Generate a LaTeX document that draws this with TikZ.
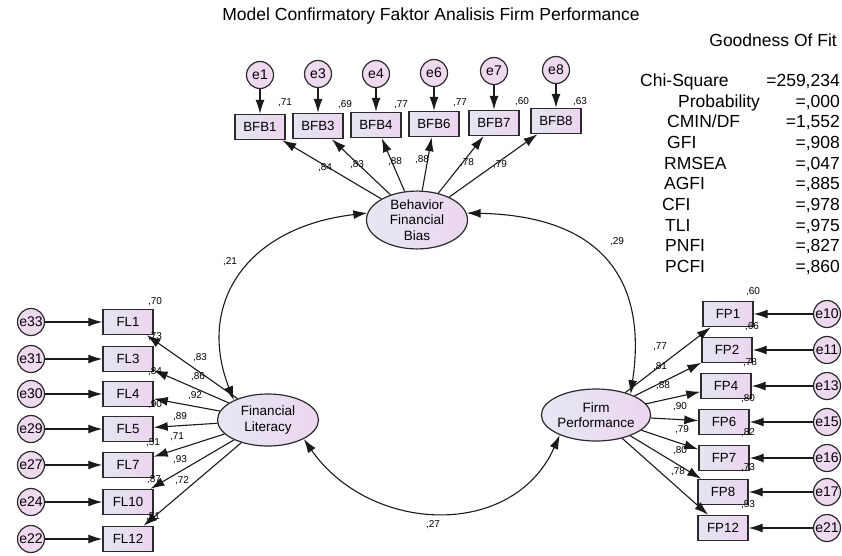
\documentclass[tikz,border=0pt]{standalone}
\usepackage{fontspec}
\setmainfont{Liberation Sans}
\usetikzlibrary{arrows.meta,shapes.geometric}
\definecolor{bord}{HTML}{2B2B2B}
\definecolor{lineC}{HTML}{1A1A1A}
\definecolor{boxL}{HTML}{E3E6F0}
\definecolor{boxR}{HTML}{ECD5EF}
\definecolor{latL}{HTML}{E5E8F2}
\definecolor{latR}{HTML}{ECD6F0}
\definecolor{errF}{HTML}{EFD9EF}
\begin{document}
\begin{tikzpicture}[x=1pt,y=-1pt,
  box/.style={draw=bord,line width=1.4pt,left color=boxL,right color=boxR,minimum width=50pt,minimum height=25pt,inner sep=0pt,font=\fontsize{13.3}{15}\selectfont},
  err/.style={circle,draw=bord,line width=1.2pt,fill=errF,minimum size=27pt,inner sep=0pt,font=\fontsize{14}{15}\selectfont},
  lat/.style={ellipse,draw=bord,line width=1.2pt,left color=latL,right color=latR,minimum width=101pt,minimum height=52pt,inner sep=0pt,align=center,font=\fontsize{13.5}{15.5}\selectfont},
  arr/.style={-{Latex[length=14pt,width=9pt]},line width=1.1pt,draw=lineC},
  cov/.style={{Latex[length=14pt,width=9pt]}-{Latex[length=14pt,width=9pt]},line width=1.1pt,draw=lineC},
  lbl/.style={font=\fontsize{10}{11}\selectfont,inner sep=0pt},
  gof/.style={font=\fontsize{17.5}{20}\selectfont,inner sep=0pt}
]
\fill[white] (0,0) rectangle (842,555);
\useasboundingbox (0,0) rectangle (842,555);

% title and goodness of fit
\node[gof,anchor=mid] (title) at (431,18) {Model Confirmatory Faktor Analisis Firm Performance};
\node[gof,anchor=mid east] (goft) at (837,44) {Goodness Of Fit};
\node[gof,anchor=mid west] (n1) at (640,84) {Chi-Square};
\node[gof,anchor=mid west] (n2) at (678,105) {Probability};
\node[gof,anchor=mid west] (n3) at (667,125) {CMIN/DF};
\node[gof,anchor=mid west] (n4) at (667,146) {GFI};
\node[gof,anchor=mid west] (n5) at (664,167) {RMSEA};
\node[gof,anchor=mid west] (n6) at (664,187) {AGFI};
\node[gof,anchor=mid west] (n7) at (662,208) {CFI};
\node[gof,anchor=mid west] (n8) at (665,229) {TLI};
\node[gof,anchor=mid west] (n9) at (665,249) {PNFI};
\node[gof,anchor=mid west] (n10) at (665,270) {PCFI};
\node[gof,anchor=mid east] (v1) at (840,84) {=259,234};
\node[gof,anchor=mid east] (v2) at (840,105) {=,000};
\node[gof,anchor=mid east] (v3) at (840,125) {=1,552};
\node[gof,anchor=mid east] (v4) at (840,146) {=,908};
\node[gof,anchor=mid east] (v5) at (840,167) {=,047};
\node[gof,anchor=mid east] (v6) at (840,187) {=,885};
\node[gof,anchor=mid east] (v7) at (840,208) {=,978};
\node[gof,anchor=mid east] (v8) at (840,229) {=,975};
\node[gof,anchor=mid east] (v9) at (840,249) {=,827};
\node[gof,anchor=mid east] (v10) at (840,270) {=,860};

% latent variables
\node[lat] (BFB) at (417,220) {Behavior\\Financial\\Bias};
\node[lat] (FL) at (268,420) {Financial\\Literacy};
\node[lat] (FP) at (596,415) {Firm\\Performance};

% BFB indicators
\node[box] (b1) at (260,127) {BFB1};
\node[box] (b3) at (318,126) {BFB3};
\node[box] (b4) at (376,125) {BFB4};
\node[box] (b6) at (434,124) {BFB6};
\node[box] (b7) at (494,123) {BFB7};
\node[box] (b8) at (556,121) {BFB8};
\node[err] (e1) at (260,75) {e1};
\node[err] (e3) at (318,74) {e3};
\node[err] (e4) at (376,74) {e4};
\node[err] (e6) at (434,73) {e6};
\node[err] (e7) at (494,71) {e7};
\node[err] (e8) at (556,70) {e8};
\foreach \i in {1,3,4,6,7,8} {
  \draw[arr] (e\i) -- (b\i);
  \draw[arr] (BFB) -- (b\i);
}
\node[lbl] (r1) at (285,103) {,71};
\node[lbl] (r3) at (345,105) {,69};
\node[lbl] (r4) at (401,105) {,77};
\node[lbl] (r6) at (460,103) {,77};
\node[lbl] (r7) at (522,102) {,60};
\node[lbl] (r8) at (580,102) {,63};
\node[lbl] (l1) at (325,168) {,84};
\node[lbl] (l3) at (357,165) {,83};
\node[lbl] (l4) at (395,162) {,88};
\node[lbl] (l6) at (422,160) {,88};
\node[lbl] (l7) at (467,163) {,78};
\node[lbl] (l8) at (500,165) {,79};

% FL indicators
\node[box] (f1) at (128,322) {FL1};
\node[box] (f3) at (128,359) {FL3};
\node[box] (f4) at (128,394) {FL4};
\node[box] (f5) at (128,429) {FL5};
\node[box] (f7) at (128,465) {FL7};
\node[box] (f10) at (128,502) {FL10};
\node[box] (f12) at (128,539) {FL12};
\node[err] (e33) at (31,322) {e33};
\node[err] (e31) at (31,359) {e31};
\node[err] (e30) at (31,394) {e30};
\node[err] (e29) at (31,429) {e29};
\node[err] (e27) at (31,465) {e27};
\node[err] (e24) at (31,502) {e24};
\node[err] (e22) at (31,539) {e22};
\draw[arr] (e33) -- (f1);
\draw[arr] (e31) -- (f3);
\draw[arr] (e30) -- (f4);
\draw[arr] (e29) -- (f5);
\draw[arr] (e27) -- (f7);
\draw[arr] (e24) -- (f10);
\draw[arr] (e22) -- (f12);
\foreach \i in {1,3,4,5,7,10,12} { \draw[arr] (FL) -- (f\i); }
\node[lbl] (rf1) at (155,302) {,70};
\node[lbl] (rf3) at (155,337) {,73};
\node[lbl] (rf4) at (155,372) {,84};
\node[lbl] (rf5) at (155,405) {,90};
\node[lbl] (rf7) at (153,443) {,51};
\node[lbl] (rf10) at (154,480) {,87};
\node[lbl] (rf12) at (153,517) {,51};
\node[lbl] (lf1) at (200,358) {,83};
\node[lbl] (lf3) at (198,377) {,86};
\node[lbl] (lf4) at (195,396) {,92};
\node[lbl] (lf5) at (180,417) {,89};
\node[lbl] (lf7) at (177,437) {,71};
\node[lbl] (lf10) at (180,460) {,93};
\node[lbl] (lf12) at (182,481) {,72};

% FP indicators
\node[box] (p1) at (728,314) {FP1};
\node[box] (p2) at (727,350) {FP2};
\node[box] (p4) at (726,386) {FP4};
\node[box] (p6) at (724,422) {FP6};
\node[box] (p7) at (724,458) {FP7};
\node[box] (p8) at (723,492) {FP8};
\node[box] (p12) at (723,528) {FP12};
\node[err] (e10) at (827,314) {e10};
\node[err] (e11) at (827,350) {e11};
\node[err] (e13) at (827,386) {e13};
\node[err] (e15) at (827,422) {e15};
\node[err] (e16) at (827,458) {e16};
\node[err] (e17) at (827,492) {e17};
\node[err] (e21) at (827,528) {e21};
\draw[arr] (e10) -- (p1);
\draw[arr] (e11) -- (p2);
\draw[arr] (e13) -- (p4);
\draw[arr] (e15) -- (p6);
\draw[arr] (e16) -- (p7);
\draw[arr] (e17) -- (p8);
\draw[arr] (e21) -- (p12);
\foreach \i in {1,2,4,6,7,8,12} { \draw[arr] (FP) -- (p\i); }
\node[lbl] (rp1) at (753,292) {,60};
\node[lbl] (rp2) at (752,327) {,66};
\node[lbl] (rp4) at (750,363) {,78};
\node[lbl] (rp6) at (748,399) {,80};
\node[lbl] (rp7) at (748,433) {,82};
\node[lbl] (rp8) at (748,468) {,73};
\node[lbl] (rp12) at (748,505) {,53};
\node[lbl] (lp1) at (660,347) {,77};
\node[lbl] (lp2) at (660,367) {,81};
\node[lbl] (lp4) at (663,386) {,88};
\node[lbl] (lp6) at (680,407) {,90};
\node[lbl] (lp7) at (682,430) {,79};
\node[lbl] (lp8) at (680,451) {,80};
\node[lbl] (lp12) at (678,472) {,78};

% covariances
\draw[cov] (BFB.172) .. controls (247,227) and (196,303) .. (FL.150);
\draw[cov] (BFB.8) .. controls (607,216) and (647,285) .. (FP.31);
\draw[cov] (FL.-28) .. controls (370,534) and (513,540) .. (FP.209);
\node[lbl] (c1) at (230,262) {,21};
\node[lbl] (c2) at (617,242) {,29};
\node[lbl] (c3) at (433,525) {,27};
\end{tikzpicture}
\end{document}
